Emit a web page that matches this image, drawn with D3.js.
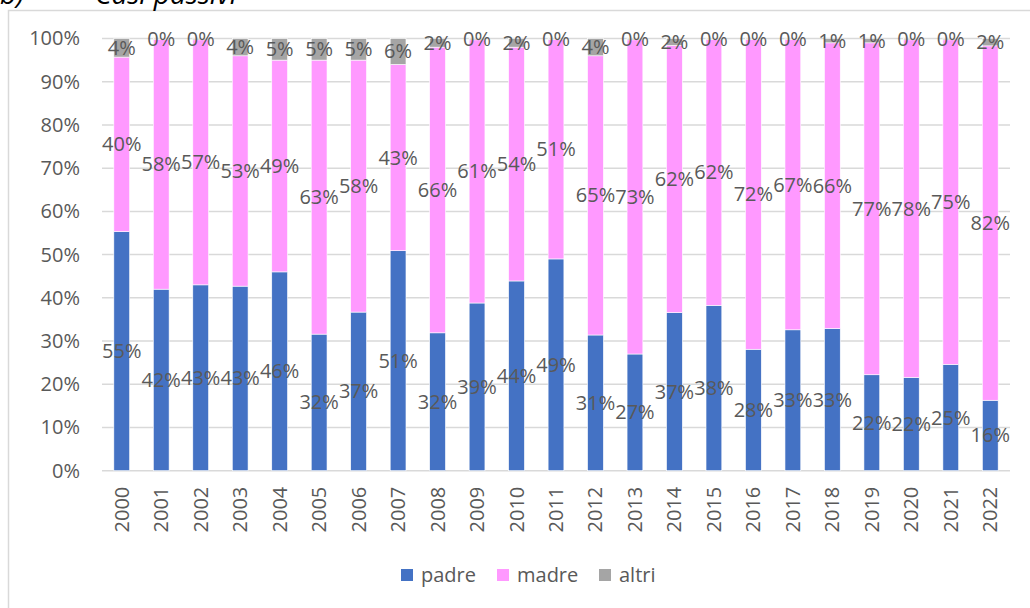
<!DOCTYPE html>
<html>
<head>
<meta charset="utf-8">
<script src="https://cdn.jsdelivr.net/npm/d3@7"></script>
<style>
  body { margin: 0; background: #fff; }
  svg { display: block; }
  text { font-family: "Open Sans", "Noto Sans", sans-serif; fill: #595959; }
</style>
</head>
<body>
<svg width="1030" height="608"></svg>
<script>
// data (percent of total per year)
const years = ["2000","2001","2002","2003","2004","2005","2006","2007","2008","2009","2010","2011",
               "2012","2013","2014","2015","2016","2017","2018","2019","2020","2021","2022"];
const padre = [55.3,42.0,43.0,42.7,46.0,31.6,36.7,50.9,31.9,38.8,43.9,49.0,31.4,27.0,36.6,38.3,28.1,32.6,32.9,22.2,21.6,24.6,16.3];
const madre = [40.4,57.8,56.7,53.3,49.0,63.4,58.3,43.1,66.1,60.9,54.1,50.8,64.6,72.7,61.9,61.6,71.7,67.2,66.1,76.8,78.1,75.1,82.0];
const altri = [4.3,0.2,0.3,4.0,5.0,5.0,5.0,6.0,2.0,0.3,2.0,0.2,4.0,0.3,1.6,0.2,0.2,0.2,1.0,1.0,0.3,0.3,1.7];
const seriesNames = ["padre", "madre", "altri"];
const yTicks = [0, 0.1, 0.2, 0.3, 0.4, 0.5, 0.6, 0.7, 0.8, 0.9, 1];

const colors = { padre: "#4472C4", madre: "#FF99FF", altri: "#A5A5A5" };

const rows = years.map((y, i) => ({ year: y, padre: padre[i], madre: madre[i], altri: altri[i] }));

const svg = d3.select("svg");

// chart frame + title above it (cut by the top edge, as in the source)
svg.append("rect")
    .attr("x", 8.5).attr("y", 10.5)
    .attr("width", 1200).attr("height", 800)
    .attr("fill", "none").attr("stroke", "#d9d9d9").attr("stroke-width", 1.5);

svg.append("text").attr("x", 0).attr("y", 4)
    .style("font-style", "italic").style("font-size", "28px").style("fill", "#000")
    .text("b)");
svg.append("text").attr("x", 95).attr("y", 4)
    .style("font-style", "italic").style("font-size", "28px").style("fill", "#000")
    .text("Casi passivi");

const plot = { left: 102, right: 1010, top: 38.5, bottom: 470.7 };

const x = d3.scaleBand().domain(years).range([plot.left, plot.right]).paddingInner(0.6).paddingOuter(0.3);
const y = d3.scaleLinear().domain([0, 1]).range([plot.bottom, plot.top]);

// gridlines
svg.append("g")
    .selectAll("line")
    .data(yTicks)
    .join("line")
    .attr("x1", plot.left).attr("x2", plot.right)
    .attr("y1", d => y(d)).attr("y2", d => y(d))
    .attr("stroke", "#d9d9d9").attr("stroke-width", 1.5);

// y axis labels
const yAxis = svg.append("g")
    .attr("transform", `translate(${plot.left - 22},0)`)
    .call(d3.axisLeft(y).tickValues(yTicks).tickFormat(d3.format(".0%")).tickSize(0).tickPadding(0));
yAxis.select(".domain").remove();
yAxis.selectAll("text").style("font-size", "20px").style("fill", "#595959");

// x axis labels (rotated)
const xAxis = svg.append("g")
    .attr("transform", `translate(0,${plot.bottom + 16})`)
    .call(d3.axisBottom(x).tickSize(0).tickPadding(0));
xAxis.select(".domain").remove();
xAxis.selectAll("text")
    .style("font-size", "20px").style("fill", "#595959")
    .attr("transform", "rotate(-90)")
    .attr("text-anchor", "end")
    .attr("x", 0).attr("y", 0).attr("dy", "0.35em");

// stacked bars
const stack = d3.stack().keys(seriesNames).offset(d3.stackOffsetExpand);
const layers = stack(rows);

const layer = svg.append("g")
    .selectAll("g")
    .data(layers)
    .join("g")
    .attr("fill", d => colors[d.key]);

layer.selectAll("rect")
    .data(d => d)
    .join("rect")
    .attr("x", d => x(d.data.year))
    .attr("width", x.bandwidth())
    .attr("y", d => y(d[1]))
    .attr("height", d => y(d[0]) - y(d[1]))
    .attr("stroke", "#fff").attr("stroke-width", 0.6);

// data labels, centred on each segment
const fmt = v => d3.format(".0f")(v) + "%";
const labels = svg.append("g");
layers.forEach(ly => {
    labels.selectAll(null)
        .data(ly)
        .join("text")
        .attr("x", d => x(d.data.year) + x.bandwidth() / 2)
        .attr("y", d => y((d[0] + d[1]) / 2))
        .attr("text-anchor", "middle")
        .attr("dy", "0.35em")
        .style("font-size", "20px")
        .style("fill", "#595959")
        .text(d => fmt(d.data[ly.key]));
});

// legend
const legend = svg.append("g").attr("transform", "translate(401,575)");
const legendX = [0, 96, 198];
seriesNames.forEach((k, i) => {
    const g = legend.append("g").attr("transform", `translate(${legendX[i]},0)`);
    g.append("rect").attr("x", 0).attr("y", -6).attr("width", 12).attr("height", 12).attr("fill", colors[k]);
    g.append("text").attr("x", 20).attr("y", 0).attr("dy", "0.35em")
        .style("font-size", "20px").text(k);
});
</script>
</body>
</html>
